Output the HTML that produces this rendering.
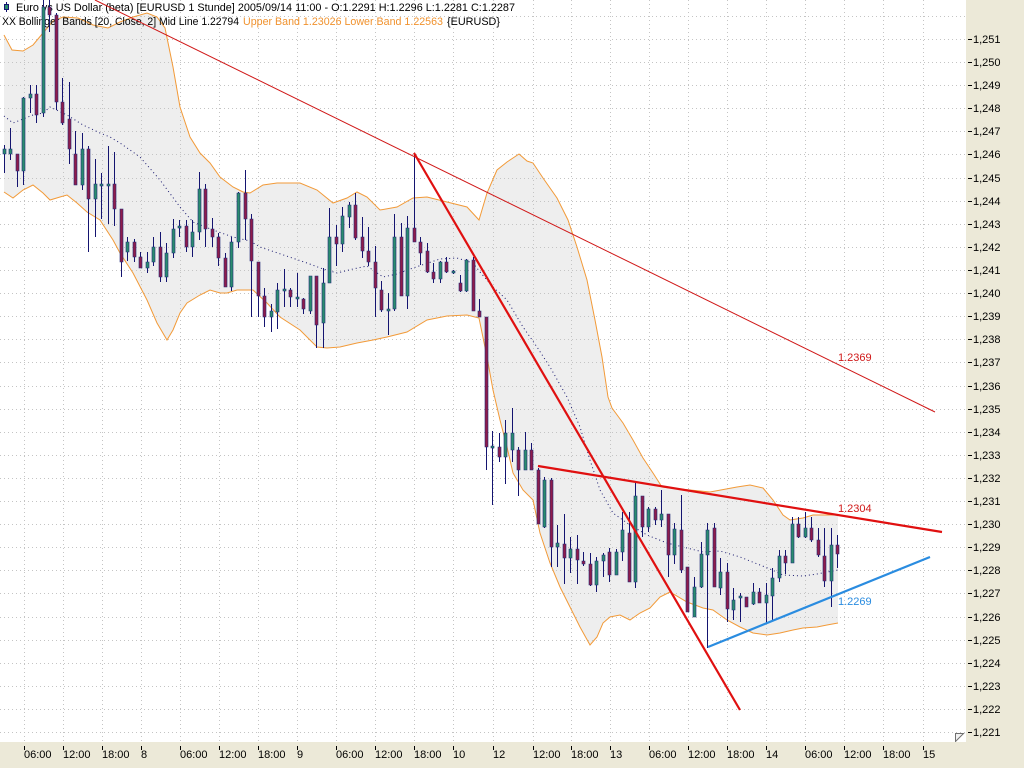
<!DOCTYPE html>
<html><head><meta charset="utf-8"><style>
html,body{margin:0;padding:0;background:#ECE9D8;}
svg{display:block;font-family:"Liberation Sans",sans-serif;}
</style></head><body>
<svg width="1024" height="768" viewBox="0 0 1024 768" xmlns="http://www.w3.org/2000/svg">
<rect x="0" y="0" width="1024" height="768" fill="#ECE9D8"/>
<rect x="0" y="0" width="966" height="742" fill="#FFFFFF"/>
<defs><clipPath id="c"><rect x="0" y="0" width="966" height="742"/></clipPath></defs>
<g clip-path="url(#c)">
<polygon fill="#EEEEEE" points="4,35 12,50 23,51 33,45 43,33 53,21 63,17 78,18 93,25 108,28 120,22 133,17 147,13 157,17 165,28 173,67 180,107 190,137 200,153 210,163 220,177 233,187 243,192 250,193 263,185 277,183 300,183 317,190 333,203 347,198 357,192 367,197 380,210 397,207 413,198 427,197 447,202 467,207 479,220 487,193 497,170 507,162 519,154 527,161 533,163 543,178 557,198 568,220 577,247 587,280 595,320 602,357 608,397 612,408 623,423 633,440 643,458 653,473 662,487 670,488 690,490 710,492 737,487 750,485 763,488 773,500 783,515 790,520 803,518 813,515 830,515 838,515 838,623 827,625 817,627 803,628 793,630 780,633 767,635 753,633 740,627 727,620 713,610 703,608 687,602 670,592 660,597 650,608 640,613 630,620 620,615 610,617 603,623 597,637 590,645 580,627 570,607 560,587 550,563 540,533 533,500 523,490 513,473 507,447 500,420 493,390 487,357 479,318 467,315 447,316 427,320 407,332 387,337 373,340 357,343 340,347 327,348 317,347 300,330 280,317 267,303 253,290 237,290 227,293 220,293 210,290 200,295 187,303 180,313 173,330 167,340 157,323 147,300 133,273 120,253 113,240 100,220 87,212 77,203 67,195 60,197 50,200 43,193 33,185 23,190 13,198 4,192"/>
<g stroke="#C4C4C4" stroke-width="1" stroke-dasharray="1 3" fill="none">
<path d="M0 16.5H966M0 39.5H966M0 62.5H966M0 85.5H966M0 108.5H966M0 131.5H966M0 154.5H966M0 178.5H966M0 201.5H966M0 224.5H966M0 247.5H966M0 270.5H966M0 293.5H966M0 316.5H966M0 339.5H966M0 362.5H966M0 386.5H966M0 409.5H966M0 432.5H966M0 455.5H966M0 478.5H966M0 501.5H966M0 524.5H966M0 547.5H966M0 570.5H966M0 593.5H966M0 617.5H966M0 640.5H966M0 663.5H966M0 686.5H966M0 709.5H966M0 732.5H966"/>
<path d="M24.5 0V742M63.5 0V742M102.5 0V742M141.5 0V742M180.5 0V742M219.5 0V742M258.5 0V742M297.5 0V742M336.5 0V742M375.5 0V742M414.5 0V742M453.5 0V742M493.5 0V742M533.5 0V742M571.5 0V742M610.5 0V742M649.5 0V742M688.5 0V742M727.5 0V742M766.5 0V742M805.5 0V742M844.5 0V742M883.5 0V742M923.5 0V742"/>
</g>
<polyline fill="none" stroke="#F29A38" stroke-width="1" points="4,35 12,50 23,51 33,45 43,33 53,21 63,17 78,18 93,25 108,28 120,22 133,17 147,13 157,17 165,28 173,67 180,107 190,137 200,153 210,163 220,177 233,187 243,192 250,193 263,185 277,183 300,183 317,190 333,203 347,198 357,192 367,197 380,210 397,207 413,198 427,197 447,202 467,207 479,220 487,193 497,170 507,162 519,154 527,161 533,163 543,178 557,198 568,220 577,247 587,280 595,320 602,357 608,397 612,408 623,423 633,440 643,458 653,473 662,487 670,488 690,490 710,492 737,487 750,485 763,488 773,500 783,515 790,520 803,518 813,515 830,515 838,515"/>
<polyline fill="none" stroke="#F29A38" stroke-width="1" points="838,623 827,625 817,627 803,628 793,630 780,633 767,635 753,633 740,627 727,620 713,610 703,608 687,602 670,592 660,597 650,608 640,613 630,620 620,615 610,617 603,623 597,637 590,645 580,627 570,607 560,587 550,563 540,533 533,500 523,490 513,473 507,447 500,420 493,390 487,357 479,318 467,315 447,316 427,320 407,332 387,337 373,340 357,343 340,347 327,348 317,347 300,330 280,317 267,303 253,290 237,290 227,293 220,293 210,290 200,295 187,303 180,313 173,330 167,340 157,323 147,300 133,273 120,253 113,240 100,220 87,212 77,203 67,195 60,197 50,200 43,193 33,185 23,190 13,198 4,192"/>
<polyline fill="none" stroke="#1A1A70" stroke-width="1" stroke-dasharray="1 3" points="4,116 13,123 33,115 43,113 50,107 67,115 83,125 100,133 110,137 120,143 140,157 160,180 180,207 193,222 213,230 233,237 250,241 260,247 307,263 323,269 337,273 353,269 367,266 383,277 397,274 413,268 440,259 457,258 473,263 480,272 493,287 507,300 523,327 537,347 550,367 567,397 580,427 590,460 600,490 613,513 627,523 647,535 667,543 703,552 720,551 740,557 760,565 770,569 783,575 803,576 817,574 838,570"/>
<g font-size="11" fill="#000">
<path d="M6.5 2V12" stroke="#141470" stroke-width="1"/>
<rect x="4.5" y="4.5" width="4" height="5" fill="#2B8C6E" stroke="#141470" stroke-width="1"/>
<text x="16" y="11" textLength="499" lengthAdjust="spacingAndGlyphs">Euro vs US Dollar (beta) [EURUSD  1 Stunde] 2005/09/14 11:00 - O:1.2291 H:1.2296 L:1.2281 C:1.2287</text>
<text x="2" y="25" textLength="237" lengthAdjust="spacingAndGlyphs">XX Bollinger Bands [20, Close, 2] Mid Line 1.22794</text>
<text x="243" y="25" fill="#F0922E" textLength="200" lengthAdjust="spacingAndGlyphs">Upper Band 1.23026 Lower Band 1.22563</text>
<text x="447" y="25" textLength="53" lengthAdjust="spacingAndGlyphs">{EURUSD}</text>
</g>
<path fill="none" stroke="#141470" stroke-width="1" d="M4.5 145V173M10.5 128V160M17.5 154V187M23.5 97V185M30.5 85V113M36.5 85V123M43.5 0V117M49.5 0V32M56.5 13V110M62.5 78V125M69.5 82V164M75.5 131V185M82.5 133V190M88.5 146V252M95.5 159V237M101.5 173V219M108.5 146V224M114.5 152V226M121.5 209V277M127.5 237V261M134.5 239V262M140.5 252V268M147.5 252V273M153.5 237V266M160.5 232V282M166.5 243V282M173.5 219V258M179.5 220V237M186.5 220V252M192.5 220V257M199.5 172V240M205.5 184V247M212.5 218V247M218.5 233V266M225.5 253V287M231.5 237V291M238.5 192V248M245.5 170V240M251.5 214V317M258.5 262V317M264.5 288V327M271.5 304V332M277.5 283V329M284.5 269V307M290.5 288V307M297.5 273V307M303.5 298V314M310.5 276V314M316.5 276V348M323.5 268V348M329.5 208V283M336.5 225V266M342.5 207V252M349.5 202V228M355.5 193V240M362.5 217V258M368.5 227V266M375.5 246V317M381.5 281V312M388.5 293V335M394.5 214V311M401.5 223V296M407.5 216V309M414.5 153V242M420.5 237V265M427.5 243V273M433.5 263V283M440.5 261V283M446.5 257V273M453.5 270V274M460.5 275V292M466.5 259V292M473.5 257V311M479.5 299V317M486.5 317V470M492.5 431V505M499.5 433V462M505.5 420V484M512.5 408V462M518.5 447V496M525.5 432V470M531.5 443V470M538.5 468V524M544.5 477V528M551.5 478V567M557.5 525V567M564.5 514V584M570.5 537V573M577.5 535V584M583.5 552V566M590.5 553V586M596.5 557V592M603.5 553V577M609.5 548V582M616.5 549V575M622.5 512V561M629.5 512V582M635.5 483V588M642.5 496V537M648.5 507V532M655.5 507V525M661.5 490V527M668.5 514V577M674.5 523V564M681.5 495V573M687.5 567V612M694.5 577V617M701.5 542V588M707.5 523V648M714.5 523V587M720.5 558V595M727.5 563V622M733.5 588V620M740.5 593V622M746.5 597V607M753.5 583V605M759.5 588V603M766.5 583V624M772.5 568V621M779.5 550V582M785.5 550V574M792.5 517V563M798.5 517V538M805.5 512V538M811.5 517V542M818.5 528V557M824.5 528V587M831.5 528V607M837.5 535V568"/>
<path fill="#2B8C6E" stroke="#1E2A78" stroke-width="0.6" d="M3 149h3v5h-3zM9 149h3v5h-3zM22 98h3v73h-3zM29 94h3v4h-3zM42 7h3v106h-3zM81 149h3v36h-3zM94 184h3v15h-3zM100 184h3v2h-3zM107 184h3v2h-3zM126 242h3v10h-3zM146 262h3v6h-3zM152 247h3v15h-3zM165 253h3v24h-3zM172 229h3v24h-3zM178 226h3v2h-3zM191 232h3v15h-3zM198 189h3v43h-3zM230 242h3v45h-3zM237 193h3v49h-3zM270 311h3v6h-3zM276 290h3v22h-3zM283 289h3v2h-3zM296 297h3v2h-3zM309 276h3v35h-3zM322 283h3v40h-3zM328 237h3v46h-3zM341 216h3v28h-3zM348 205h3v12h-3zM387 309h3v2h-3zM393 237h3v72h-3zM406 228h3v68h-3zM439 262h3v17h-3zM452 271h3v2h-3zM465 260h3v31h-3zM491 446h3v2h-3zM504 433h3v24h-3zM511 433h3v17h-3zM524 450h3v20h-3zM543 480h3v47h-3zM556 543h3v4h-3zM569 549h3v9h-3zM595 561h3v24h-3zM602 555h3v6h-3zM615 552h3v23h-3zM621 530h3v22h-3zM634 496h3v86h-3zM647 509h3v18h-3zM660 514h3v6h-3zM673 529h3v26h-3zM693 587h3v30h-3zM700 554h3v33h-3zM706 530h3v25h-3zM719 572h3v16h-3zM732 600h3v10h-3zM739 596h3v2h-3zM752 592h3v12h-3zM765 595h3v8h-3zM771 578h3v18h-3zM778 556h3v22h-3zM791 524h3v39h-3zM804 528h3v9h-3zM830 545h3v36h-3z"/>
<path fill="#8E1D4B" stroke="#1E2A78" stroke-width="0.6" d="M16 154h3v17h-3zM35 94h3v21h-3zM48 7h3v8h-3zM55 15h3v87h-3zM61 102h3v21h-3zM68 119h3v30h-3zM74 154h3v31h-3zM87 149h3v50h-3zM113 184h3v25h-3zM120 209h3v53h-3zM133 242h3v15h-3zM139 257h3v11h-3zM159 247h3v30h-3zM185 226h3v21h-3zM204 189h3v40h-3zM211 229h3v8h-3zM217 237h3v21h-3zM224 258h3v29h-3zM244 193h3v26h-3zM250 219h3v42h-3zM257 262h3v34h-3zM263 296h3v21h-3zM289 290h3v7h-3zM302 299h3v10h-3zM315 276h3v49h-3zM335 237h3v7h-3zM354 205h3v33h-3zM361 237h3v14h-3zM367 251h3v11h-3zM374 262h3v26h-3zM380 290h3v20h-3zM400 237h3v59h-3zM413 228h3v14h-3zM419 242h3v11h-3zM426 251h3v21h-3zM432 272h3v7h-3zM445 262h3v10h-3zM459 283h3v8h-3zM472 260h3v51h-3zM478 311h3v6h-3zM485 317h3v130h-3zM498 447h3v10h-3zM517 450h3v20h-3zM530 450h3v20h-3zM537 470h3v54h-3zM550 480h3v67h-3zM563 544h3v14h-3zM576 549h3v11h-3zM582 561h3v3h-3zM589 564h3v21h-3zM608 552h3v23h-3zM628 533h3v49h-3zM641 496h3v31h-3zM654 509h3v11h-3zM667 514h3v41h-3zM680 530h3v40h-3zM686 567h3v45h-3zM713 528h3v59h-3zM726 572h3v37h-3zM745 597h3v10h-3zM758 592h3v11h-3zM784 556h3v7h-3zM797 524h3v13h-3zM810 528h3v12h-3zM817 540h3v15h-3zM823 556h3v25h-3zM836 545h3v9h-3z"/>
<line x1="95" y1="0" x2="935" y2="412" stroke="#D01818" stroke-width="1"/>
<line x1="414" y1="153" x2="740" y2="710" stroke="#E01010" stroke-width="2.2"/>
<line x1="538" y1="466" x2="942" y2="532" stroke="#E01010" stroke-width="2.2"/>
<line x1="708" y1="647" x2="930" y2="557" stroke="#2A8CE0" stroke-width="2.2"/>
<g font-size="11">
<text x="838" y="361" fill="#D01818">1.2369</text>
<text x="838" y="512" fill="#D01818">1.2304</text>
<text x="838" y="605" fill="#2A8CE0">1.2269</text>
</g>
<polygon points="955.5,733.5 963.5,733.5 955.5,741.5" fill="#F2F2F2" stroke="#707070" stroke-width="1"/>
</g>
<g stroke="#000" stroke-width="1">
<path d="M968 39.5h4M968 62.5h4M968 85.5h4M968 108.5h4M968 131.5h4M968 154.5h4M968 178.5h4M968 201.5h4M968 224.5h4M968 247.5h4M968 270.5h4M968 293.5h4M968 316.5h4M968 339.5h4M968 362.5h4M968 386.5h4M968 409.5h4M968 432.5h4M968 455.5h4M968 478.5h4M968 501.5h4M968 524.5h4M968 547.5h4M968 570.5h4M968 593.5h4M968 617.5h4M968 640.5h4M968 663.5h4M968 686.5h4M968 709.5h4M968 732.5h4"/>
</g>
<g font-size="11" fill="#000">
<text x="973" y="43">1,251</text><text x="973" y="66">1,250</text><text x="973" y="89">1,249</text><text x="973" y="112">1,248</text><text x="973" y="135">1,247</text><text x="973" y="158">1,246</text><text x="973" y="182">1,245</text><text x="973" y="205">1,244</text><text x="973" y="228">1,243</text><text x="973" y="251">1,242</text><text x="973" y="274">1,241</text><text x="973" y="297">1,240</text><text x="973" y="320">1,239</text><text x="973" y="343">1,238</text><text x="973" y="366">1,237</text><text x="973" y="390">1,236</text><text x="973" y="413">1,235</text><text x="973" y="436">1,234</text><text x="973" y="459">1,233</text><text x="973" y="482">1,232</text><text x="973" y="505">1,231</text><text x="973" y="528">1,230</text><text x="973" y="551">1,229</text><text x="973" y="574">1,228</text><text x="973" y="597">1,227</text><text x="973" y="621">1,226</text><text x="973" y="644">1,225</text><text x="973" y="667">1,224</text><text x="973" y="690">1,223</text><text x="973" y="713">1,222</text><text x="973" y="736">1,221</text>
</g>
<path stroke="#000" stroke-width="1" d="M24.5 746v4M63.5 746v4M102.5 746v4M141.5 746v4M180.5 746v4M219.5 746v4M258.5 746v4M297.5 746v4M336.5 746v4M375.5 746v4M414.5 746v4M453.5 746v4M493.5 746v4M533.5 746v4M571.5 746v4M610.5 746v4M649.5 746v4M688.5 746v4M727.5 746v4M766.5 746v4M805.5 746v4M844.5 746v4M883.5 746v4M923.5 746v4"/>
<g font-size="11" fill="#000">
<text x="24" y="758">06:00</text><text x="63" y="758">12:00</text><text x="102" y="758">18:00</text><text x="141" y="758">8</text>
<text x="180" y="758">06:00</text><text x="219" y="758">12:00</text><text x="258" y="758">18:00</text><text x="297" y="758">9</text>
<text x="336" y="758">06:00</text><text x="375" y="758">12:00</text><text x="414" y="758">18:00</text><text x="453" y="758">10</text>
<text x="493" y="758">12</text><text x="533" y="758">12:00</text><text x="571" y="758">18:00</text><text x="610" y="758">13</text>
<text x="649" y="758">06:00</text><text x="688" y="758">12:00</text><text x="727" y="758">18:00</text><text x="766" y="758">14</text>
<text x="805" y="758">06:00</text><text x="844" y="758">12:00</text><text x="883" y="758">18:00</text><text x="923" y="758">15</text>
</g>
</svg>
</body></html>
